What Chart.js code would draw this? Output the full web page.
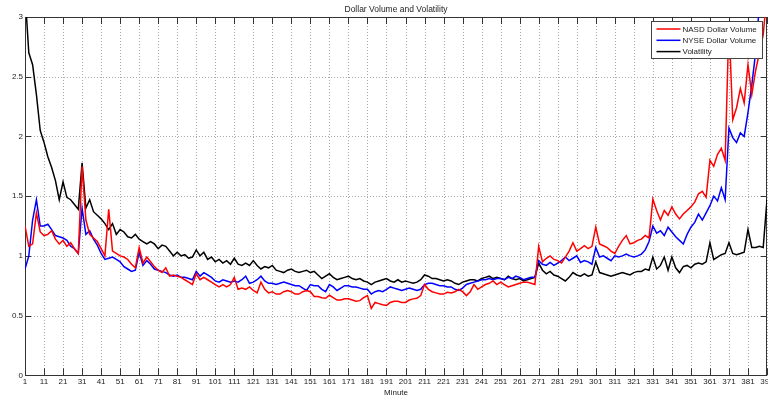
<!DOCTYPE html>
<html><head><meta charset="utf-8">
<script src="https://cdn.jsdelivr.net/npm/chart.js@4/dist/chart.umd.min.js"></script>
<style>html,body{margin:0;padding:0;background:#fff;overflow:hidden}#wrap{width:768px;height:398px}</style>
</head><body><div id="wrap"><canvas id="c" width="768" height="398"></canvas></div>
<script>
const chartTitle = 'Dollar Volume and Volatility';
const xTitle = 'Minute';
const seriesLabels = ['NASD Dollar Volume', 'NYSE Dollar Volume', 'Volatility'];
const seriesColors = ['#ff0000', '#0000ff', '#000000'];

const minutes = [
1,3,5,7,9,11,13,15,17,19,
21,23,25,27,29,31,33,35,37,39,
41,43,45,47,49,51,53,55,57,59,
61,63,65,67,69,71,73,75,77,79,
81,83,85,87,89,91,93,95,97,99,
101,103,105,107,109,111,113,115,117,119,
121,123,125,127,129,131,133,135,137,139,
141,143,145,147,149,151,153,155,157,159,
161,163,165,167,169,171,173,175,177,179,
181,183,185,187,189,191,193,195,197,199,
201,203,205,207,209,211,213,215,217,219,
221,223,225,227,229,231,233,235,237,239,
241,243,245,247,249,251,253,255,257,259,
261,263,265,267,269,271,273,275,277,279,
281,283,285,287,289,291,293,295,297,299,
301,303,305,307,309,311,313,315,317,319,
321,323,325,327,329,331,333,335,337,339,
341,343,345,347,349,351,353,355,357,359,
361,363,365,367,369,371,373,375,377,379,
381,383,385,387,389,391];

const nasd = [
1.25,1.08,1.10,1.36,1.20,1.17,1.18,1.21,1.14,1.10,
1.13,1.08,1.11,1.06,1.02,1.75,1.30,1.18,1.15,1.12,
1.06,1.00,1.39,1.04,1.02,1.00,0.99,0.97,0.93,0.90,
1.07,0.94,0.99,0.95,0.91,0.88,0.86,0.90,0.83,0.84,
0.83,0.82,0.80,0.78,0.76,0.85,0.80,0.82,0.80,0.78,
0.76,0.74,0.76,0.74,0.76,0.82,0.72,0.73,0.72,0.74,
0.71,0.69,0.78,0.72,0.69,0.70,0.68,0.68,0.70,0.71,
0.70,0.68,0.68,0.70,0.71,0.70,0.66,0.66,0.65,0.645,
0.67,0.65,0.63,0.63,0.64,0.64,0.63,0.62,0.625,0.65,
0.667,0.56,0.61,0.60,0.59,0.585,0.61,0.62,0.62,0.61,
0.61,0.63,0.64,0.645,0.667,0.76,0.72,0.70,0.69,0.68,
0.68,0.695,0.69,0.70,0.72,0.70,0.667,0.70,0.76,0.72,
0.74,0.76,0.77,0.79,0.76,0.78,0.76,0.74,0.75,0.76,
0.77,0.78,0.78,0.77,0.76,1.08,0.95,0.98,1.00,0.97,
0.96,0.94,0.99,1.04,1.11,1.04,1.06,1.085,1.06,1.08,
1.24,1.10,1.085,1.07,1.04,1.02,1.08,1.13,1.17,1.10,
1.11,1.13,1.14,1.17,1.15,1.475,1.38,1.30,1.38,1.34,
1.41,1.35,1.31,1.35,1.38,1.41,1.45,1.52,1.54,1.49,
1.80,1.75,1.85,1.90,1.80,2.95,2.14,2.24,2.40,2.28,
2.60,2.35,2.55,2.70,2.85,3.2];

const nyse = [
0.89,1.00,1.30,1.47,1.25,1.25,1.265,1.22,1.17,1.16,
1.15,1.13,1.08,1.06,1.02,1.40,1.18,1.21,1.14,1.09,
1.02,0.97,0.98,0.99,0.97,0.95,0.91,0.89,0.87,0.88,
1.03,0.92,0.96,0.93,0.89,0.88,0.87,0.86,0.84,0.83,
0.84,0.82,0.82,0.81,0.80,0.87,0.83,0.86,0.84,0.82,
0.79,0.78,0.80,0.79,0.78,0.79,0.78,0.80,0.83,0.77,
0.78,0.80,0.83,0.79,0.77,0.77,0.76,0.77,0.78,0.77,
0.76,0.75,0.75,0.73,0.71,0.76,0.75,0.75,0.72,0.70,
0.76,0.74,0.71,0.73,0.75,0.75,0.74,0.74,0.73,0.72,
0.72,0.68,0.70,0.71,0.70,0.72,0.74,0.73,0.72,0.71,
0.72,0.73,0.72,0.71,0.72,0.76,0.77,0.77,0.76,0.75,
0.75,0.74,0.74,0.72,0.71,0.73,0.76,0.77,0.78,0.79,
0.80,0.80,0.81,0.80,0.81,0.81,0.80,0.82,0.81,0.83,
0.82,0.80,0.81,0.82,0.82,0.96,0.93,0.92,0.945,0.92,
0.94,0.96,0.99,0.96,0.98,1.00,0.945,0.96,0.95,0.93,
1.07,0.99,1.00,0.98,0.96,1.00,0.99,1.00,1.015,1.00,
0.99,1.00,1.015,1.05,1.12,1.25,1.19,1.21,1.17,1.24,
1.20,1.16,1.13,1.10,1.18,1.24,1.28,1.35,1.30,1.36,
1.42,1.50,1.46,1.57,1.47,2.07,1.99,1.95,2.03,2.00,
2.20,2.43,2.70,3.1,3.3,3.5];

const volatility = [
3.2,2.7,2.6,2.35,2.05,1.95,1.83,1.74,1.63,1.47,
1.62,1.49,1.47,1.43,1.39,1.78,1.40,1.47,1.37,1.34,
1.31,1.27,1.22,1.27,1.18,1.22,1.20,1.16,1.15,1.18,
1.14,1.12,1.10,1.12,1.10,1.06,1.09,1.08,1.04,1.00,
1.03,1.00,1.01,0.98,0.99,1.05,1.00,1.03,0.97,0.99,
0.95,0.97,0.94,0.96,0.93,0.98,0.93,0.92,0.94,0.92,
0.96,0.92,0.89,0.91,0.90,0.92,0.88,0.87,0.86,0.88,
0.89,0.87,0.86,0.87,0.88,0.86,0.87,0.84,0.81,0.83,
0.85,0.82,0.80,0.81,0.82,0.83,0.81,0.80,0.81,0.79,
0.78,0.76,0.78,0.79,0.80,0.81,0.79,0.78,0.80,0.78,
0.79,0.78,0.77,0.78,0.80,0.84,0.83,0.81,0.81,0.80,
0.79,0.80,0.79,0.77,0.76,0.78,0.79,0.80,0.80,0.79,
0.81,0.82,0.83,0.81,0.82,0.81,0.80,0.83,0.81,0.80,
0.81,0.79,0.80,0.81,0.82,0.94,0.88,0.85,0.87,0.84,
0.83,0.81,0.79,0.82,0.86,0.84,0.83,0.85,0.83,0.84,
0.95,0.86,0.85,0.84,0.83,0.84,0.85,0.86,0.85,0.84,
0.86,0.87,0.87,0.89,0.88,0.99,0.89,0.92,0.99,0.88,
0.99,0.90,0.86,0.91,0.92,0.90,0.93,0.94,0.93,0.95,
1.11,0.97,0.99,1.01,1.02,1.11,1.02,1.01,1.02,1.03,
1.22,1.07,1.07,1.08,1.07,1.47];

const xTicks = [1,11,21,31,41,51,61,71,81,91,101,111,121,131,141,151,161,171,181,191,201,211,221,231,241,251,261,271,281,291,301,311,321,331,341,351,361,371,381,391];
const yTicks = [0,0.5,1,1.5,2,2.5,3];

const FONT = '"Liberation Sans", Arial, Helvetica, sans-serif';
const toPts = arr => arr.map((v, i) => ({x: minutes[i], y: v}));

const axesPlugin = {
  id: 'matlabAxes',
  beforeDatasetsDraw(chart) {
    const {ctx, chartArea: a, scales: {x, y}} = chart;
    ctx.save();
    ctx.lineWidth = 1;
    ctx.strokeStyle = '#a8a8a8';
    ctx.setLineDash([1, 2]);
    xTicks.forEach(t => {
      const px = Math.round(x.getPixelForValue(t)) + 0.5;
      ctx.beginPath(); ctx.moveTo(px, a.top); ctx.lineTo(px, a.bottom); ctx.stroke();
    });
    yTicks.forEach(t => {
      const py = Math.round(y.getPixelForValue(t)) + 0.5;
      ctx.beginPath(); ctx.moveTo(a.left, py); ctx.lineTo(a.right, py); ctx.stroke();
    });
    ctx.setLineDash([]);
    ctx.strokeStyle = '#333';
    const L = 7;
    xTicks.forEach(t => {
      const px = Math.round(x.getPixelForValue(t)) + 0.5;
      ctx.beginPath();
      ctx.moveTo(px, a.bottom); ctx.lineTo(px, a.bottom - L);
      ctx.moveTo(px, a.top); ctx.lineTo(px, a.top + L);
      ctx.stroke();
    });
    yTicks.forEach(t => {
      const py = Math.round(y.getPixelForValue(t)) + 0.5;
      ctx.beginPath();
      ctx.moveTo(a.left, py); ctx.lineTo(a.left + 6, py);
      ctx.moveTo(a.right, py); ctx.lineTo(a.right - 6, py);
      ctx.stroke();
    });
    ctx.strokeStyle = '#333';
    ctx.strokeRect(Math.round(a.left) + 0.5, Math.round(a.top) + 0.5,
      Math.round(a.right) - Math.round(a.left) - 1, Math.round(a.bottom) - Math.round(a.top));
    ctx.restore();
  },
  afterDatasetsDraw(chart) {
    const {ctx, chartArea: a} = chart;
    ctx.save();
    const bx = 651.5, by = 21.5, bw = 111, bh = 37;
    ctx.fillStyle = '#fff';
    ctx.fillRect(bx, by, bw, bh);
    ctx.strokeStyle = '#444';
    ctx.lineWidth = 1;
    ctx.strokeRect(bx, by, bw, bh);
    ctx.font = '8px ' + FONT;
    ctx.textBaseline = 'middle';
    ctx.textAlign = 'left';
    chart.data.datasets.forEach((ds, i) => {
      const ry = by + 7.5 + i * 11.3;
      ctx.strokeStyle = ds.borderColor;
      ctx.lineWidth = 1.5;
      ctx.beginPath(); ctx.moveTo(bx + 5, ry); ctx.lineTo(bx + 29, ry); ctx.stroke();
      ctx.fillStyle = '#222';
      ctx.fillText(ds.label, bx + 31, ry + 0.5);
    });
    ctx.font = '8.5px ' + FONT;
    ctx.textAlign = 'center';
    ctx.fillStyle = '#222';
    ctx.fillText(chartTitle, (a.left + a.right) / 2, 9.5);
    ctx.restore();
  }
};

const datasets = [nasd, nyse, volatility].map((arr, i) => ({
  label: seriesLabels[i],
  data: toPts(arr),
  borderColor: seriesColors[i],
  backgroundColor: seriesColors[i],
  borderWidth: 1.5,
  pointRadius: 0,
  tension: 0,
  fill: false
}));

new Chart(document.getElementById('c'), {
  type: 'line',
  data: {datasets},
  options: {
    responsive: false,
    devicePixelRatio: 1,
    animation: false,
    layout: {padding: {top: 17, right: 1, left: 0, bottom: 0}},
    plugins: {legend: {display: false}, title: {display: false}, tooltip: {enabled: false}},
    scales: {
      x: {
        type: 'linear', min: 1, max: 391,
        afterBuildTicks: s => { s.ticks = xTicks.map(v => ({value: v})); },
        afterFit: s => { s.paddingLeft = 0; s.paddingRight = 0; },
        grid: {display: false, drawTicks: false},
        border: {display: false},
        ticks: {autoSkip: false, maxRotation: 0, minRotation: 0, padding: 1.2,
          font: {size: 8, family: FONT}, color: '#222', callback: v => String(v)},
        title: {display: true, text: xTitle, color: '#222', font: {size: 8, family: FONT},
          padding: {top: 1.1, bottom: 0}}
      },
      y: {
        type: 'linear', min: 0, max: 3,
        afterBuildTicks: s => { s.ticks = yTicks.map(v => ({value: v})); },
        afterFit: s => { s.width = 25; s.paddingTop = 0; s.paddingBottom = 0; },
        grid: {display: false, drawTicks: false},
        border: {display: false},
        ticks: {padding: 2, font: {size: 8, family: FONT}, color: '#222', callback: v => String(v)}
      }
    }
  },
  plugins: [axesPlugin]
});
</script>
</body></html>
